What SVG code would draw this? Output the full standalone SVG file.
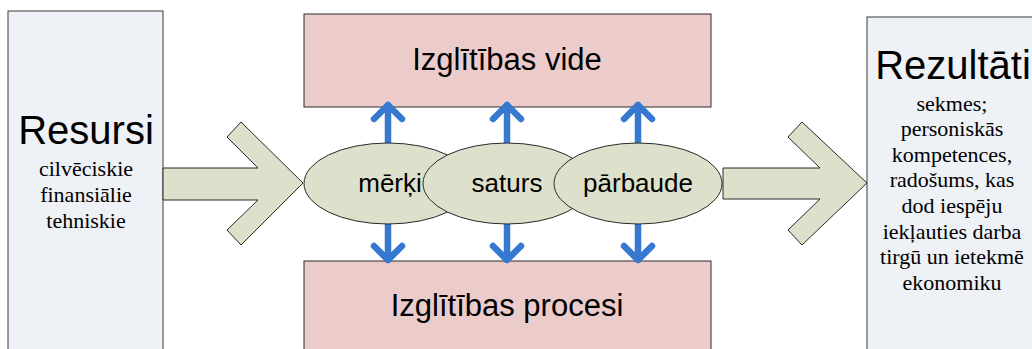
<svg xmlns="http://www.w3.org/2000/svg" width="1032" height="349" viewBox="0 0 1032 349">
<style>
.side{fill:#EEF1F6;stroke:#3a3a3a;stroke-width:1}
.pink{fill:#EBCCCB;stroke:#2a2a2a;stroke-width:1}
.olive{fill:#DDE0CB;stroke:#2a2a2a;stroke-width:1}
.big{font-family:"Liberation Sans",Arial,sans-serif;font-size:40px;fill:#000;text-anchor:middle}
.mid{font-family:"Liberation Sans",Arial,sans-serif;font-size:31px;fill:#000;text-anchor:middle}
.ell{font-family:"Liberation Sans",Arial,sans-serif;font-size:26px;fill:#000;text-anchor:middle}
.ser{font-family:'Liberation Serif','Times New Roman',serif;font-size:22px;fill:#000;text-anchor:middle}
.blue{fill:none;stroke:#3778D0;stroke-width:6.5;stroke-linecap:round;stroke-linejoin:round}
</style>
<rect width="1032" height="349" fill="#ffffff"/>
<g id="resursi">
<rect class="side" x="8" y="11" width="155" height="345"/>
<text class="big" x="86" y="144">Resursi</text>
<text class="ser" x="86" y="176">cilvēciskie</text>
<text class="ser" x="86" y="202">finansiālie</text>
<text class="ser" x="86" y="228">tehniskie</text>
</g>
<g id="rezultati">
<rect class="side" x="867" y="17" width="175" height="345"/>
<text class="big" x="953" y="79">Rezultāti</text>
<text class="ser" x="952" y="110.5">sekmes;</text>
<text class="ser" x="952" y="136">personiskās</text>
<text class="ser" x="952" y="161.7">kompetences,</text>
<text class="ser" x="952" y="187.3">radošums, kas</text>
<text class="ser" x="952" y="212.9">dod iespēju</text>
<text class="ser" x="952" y="238.5">iekļauties darba</text>
<text class="ser" x="952" y="264">tirgū un ietekmē</text>
<text class="ser" x="952" y="289.7">ekonomiku</text>
</g>
<g id="vide">
<rect class="pink" x="304" y="14" width="407" height="93"/>
<text class="mid" x="507" y="70">Izglītības vide</text>
</g>
<g id="procesi">
<rect class="pink" x="304" y="261" width="407" height="100"/>
<text class="mid" x="507" y="316">Izglītības procesi</text>
</g>
<g id="connectors">
<polygon class="olive" points="163,168 258,168 227,137 241,122 303,183 241,245 227,230 258,200 163,200"/>
<polygon class="olive" points="723,168 820,168 788,137 802,122 867,183 802,245 788,230 820,199 723,199"/>
<path class="blue" d="M388,143V105M374,119L388,105L402,119"/>
<path class="blue" d="M507,143V105M493,119L507,105L521,119"/>
<path class="blue" d="M638,143V105M624,119L638,105L652,119"/>
<path class="blue" d="M388,224V260M374,246L388,260L402,246"/>
<path class="blue" d="M507,224V260M493,246L507,260L521,246"/>
<path class="blue" d="M638,224V260M624,246L638,260L652,246"/>
</g>
<g id="merki">
<ellipse class="olive" cx="388" cy="183.5" rx="84" ry="40.5"/>
<text class="ell" x="390" y="192">mērķi</text>
</g>
<g id="saturs">
<ellipse class="olive" cx="507" cy="183.5" rx="84" ry="40.5"/>
<text class="ell" x="507" y="192">saturs</text>
</g>
<g id="parbaude">
<ellipse class="olive" cx="638" cy="183.5" rx="84" ry="40.5"/>
<text class="ell" x="638" y="192">pārbaude</text>
</g>
</svg>
